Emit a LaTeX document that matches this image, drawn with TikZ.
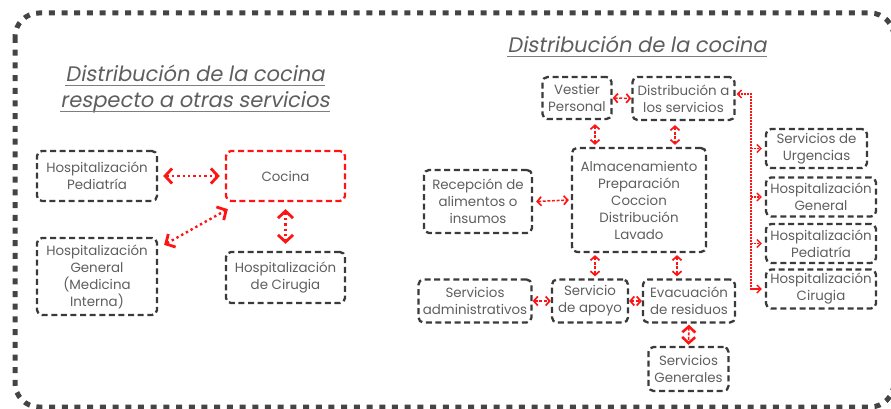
\documentclass[tikz,border=0pt]{standalone}
\usepackage{fontspec}
\setmainfont{Poppins}
\newfontfamily\titlefont[FakeSlant=0.18]{Poppins}
\usetikzlibrary{arrows.meta}
\definecolor{ink}{HTML}{3A3A3A}
\definecolor{txt}{HTML}{5E5E5E}
\definecolor{rd}{HTML}{FF1414}
\begin{document}
\begin{tikzpicture}[x=1pt,y=-1pt,
  box/.style={draw=ink, line width=2.3pt, dash pattern=on 6pt off 3.6pt,
    rounded corners=5pt, align=center, text=txt, inner sep=0pt,
    font=\fontsize{13.4}{17}\selectfont},
  redbox/.style={box, draw=rd},
  ttl/.style={text=txt, inner sep=0pt, anchor=base,
    font=\titlefont\fontsize{21}{26}\selectfont},
  uline/.style={draw=txt!80, line width=0.9pt},
  bigarr/.style={draw=rd, line width=2.4pt, dash pattern=on 2.4pt off 3pt,
    {Straight Barb[length=7pt,width=15pt,line width=2.8pt]}-{Straight Barb[length=7pt,width=15pt,line width=2.8pt]}},
  smallarr/.style={draw=rd, line width=1.5pt, dash pattern=on 3pt off 1.6pt,
    {Straight Barb[length=4pt,width=9pt,line width=1.7pt]}-{Straight Barb[length=4pt,width=9pt,line width=1.7pt]}},
  fatarr/.style={draw=rd, line width=1.6pt, dash pattern=on 3pt off 1.6pt,
    {Straight Barb[length=6pt,width=13pt,line width=2.6pt]}-{Straight Barb[length=6pt,width=13pt,line width=2.6pt]}},
  busline/.style={draw=rd, line width=1.3pt, dash pattern=on 1.6pt off 1.4pt},
  bustip/.style={busline, -{Straight Barb[length=4pt,width=8pt,line width=1.4pt]}},
  frame/.style={draw=ink!95, line width=5pt, dash pattern=on 6pt off 6.7pt,
    rounded corners=24pt}
]
\useasboundingbox (0,0) rectangle (891,409);

% outer dotted frame
\draw[frame] (15,13) rectangle (894,407);

% ---------- left: kitchen and other services ----------
\node[ttl] (ttlLa) at (195,82) {Distribución de la cocina};
\node[ttl] (ttlLb) at (195,108) {respecto a otras servicios};
\draw[uline] ([yshift=-3.5]ttlLa.base west) -- ([yshift=-3.5]ttlLa.base east);
\draw[uline] ([yshift=-3.5]ttlLb.base west) -- ([yshift=-3.5]ttlLb.base east);

\node[box, minimum width=120, minimum height=50] (pedL) at (97,176) {Hospitalización\\Pediatría};
\node[redbox, minimum width=119, minimum height=50] (coc) at (285.5,176) {Cocina};
\node[box, minimum width=120, minimum height=77] (genL) at (97,276.5) {Hospitalización\\General\\(Medicina\\Interna)};
\node[box, minimum width=119, minimum height=51] (cirL) at (285.5,277.5) {Hospitalización\\de Cirugia};

\draw[bigarr] ([xshift=5]pedL.east) -- ([xshift=-5]coc.west);
\draw[bigarr] ([shift={(6,8)}]genL.north east) -- ([shift={(3,7)}]coc.south west);
\draw[bigarr] ([yshift=-7]coc.south) -- ([yshift=7]cirL.north);

% ---------- right: kitchen layout ----------
\node[ttl] (ttlR) at (637,53) {Distribución de la cocina};
\draw[uline] ([yshift=-3.5]ttlR.base west) -- ([yshift=-3.5]ttlR.base east);

\node[box, minimum width=69, minimum height=42] (vest) at (577,98) {Vestier\\Personal};
\node[box, minimum width=102, minimum height=43] (dist) at (683.5,98.5) {Distribución a\\los servicios};
\node[box, minimum width=134, minimum height=104] (alm) at (639,200) {Almacenamiento\\Preparación\\Coccion\\Distribución\\Lavado};
\node[box, minimum width=108, minimum height=63] (rec) at (478,201.5) {Recepción de\\alimentos o\\insumos};
\node[box, minimum width=113, minimum height=43] (adm) at (475,301) {Servicios\\administrativos};
\node[box, minimum width=76, minimum height=43] (apo) at (590,301) {Servicio\\de apoyo};
\node[box, minimum width=92, minimum height=43] (eva) at (689,301) {Evacuación\\de residuos};
\node[box, minimum width=80, minimum height=44] (sgen) at (688.5,369) {Servicios\\Generales};

\node[box, minimum width=101, minimum height=39] (urg) at (816.5,148.5) {Servicios de\\Urgencias};
\node[box, minimum width=110, minimum height=39] (hgen) at (821,197) {Hospitalización\\General};
\node[box, minimum width=110, minimum height=39] (hped) at (821,243.5) {Hospitalización\\Pediatría};
\node[box, minimum width=110, minimum height=39] (hcir) at (821,289) {Hospitalización\\Cirugia};

% links between the kitchen areas
\draw[smallarr] (vest.east) -- (dist.west);
\draw[smallarr] ([yshift=-4]vest.south -| 595,0) -- ([yshift=2]alm.north -| 595,0);
\draw[smallarr] ([yshift=-4]dist.south -| 675,0) -- ([yshift=2]alm.north -| 675,0);
\draw[smallarr] ([xshift=3]rec.east) -- ([xshift=-2]alm.west);
\draw[smallarr] ([yshift=-2]alm.south -| 595,0) -- ([yshift=2]apo.north -| 595,0);
\draw[smallarr] ([yshift=-2]alm.south -| 677,0) -- ([yshift=2]eva.north -| 677,0);
\draw[smallarr] (adm.east) -- (apo.west);
\draw[smallarr] (apo.east) -- (eva.west);
\draw[fatarr] ([yshift=-1]eva.south) -- ([yshift=1]sgen.north);

% distribution bus towards the hospital services
\coordinate (bus) at (751,94);
\draw[busline, {Straight Barb[length=4pt,width=8pt,line width=1.4pt]}-]
  ([yshift=4.5,xshift=1]dist.east) -- (bus) |- ([xshift=-3]hcir.west);
\draw[bustip] (bus |- urg.west) -- ([xshift=-3]urg.west);
\draw[bustip] (bus |- hgen.west) -- ([xshift=-3]hgen.west);
\draw[bustip] (bus |- hped.west) -- ([xshift=-3]hped.west);
\draw[bustip] (bus |- hcir.west) -- ([xshift=-3]hcir.west);
\end{tikzpicture}
\end{document}
